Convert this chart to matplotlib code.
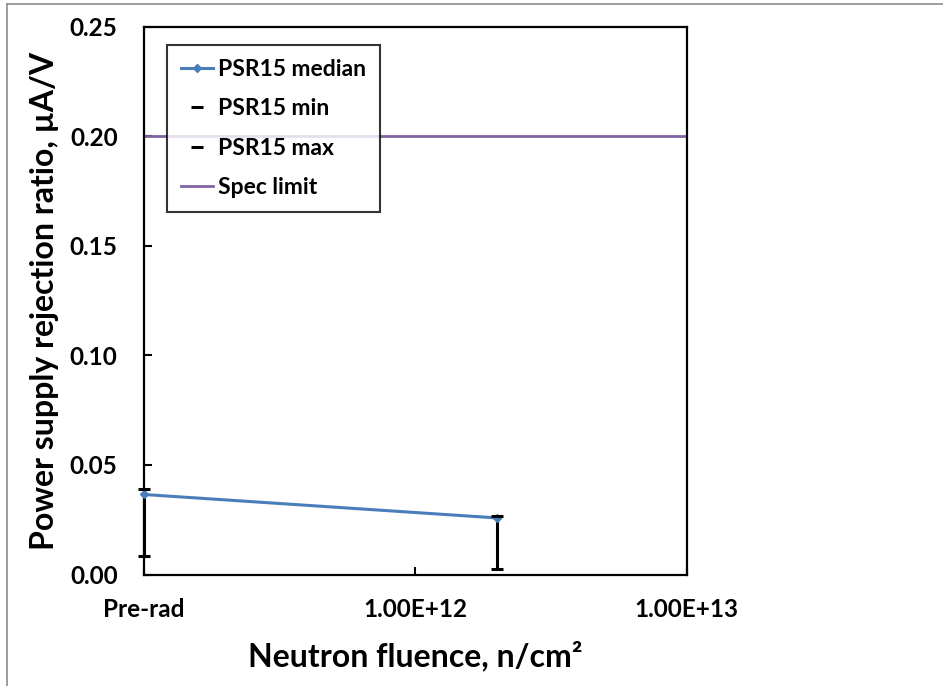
import numpy as np
import matplotlib.pyplot as plt
from matplotlib.lines import Line2D

plt.rcParams['font.family'] = ['Lato', 'DejaVu Sans']
plt.rcParams['font.weight'] = 'bold'

# fluence in n/cm^2, pre-rad drawn at the left end of the log axis
fluence = [1e11, 2e12]
psr_median = [0.0365, 0.0258]
psr_min = [0.0084, 0.0024]
psr_max = [0.0391, 0.0265]
spec_x = [1e11, 1e13]
spec_limit = [0.2, 0.2]

x_ticks = [1e11, 1e12, 1e13]
x_tick_labels = ['Pre-rad', '1.00E+12', '1.00E+13']
y_ticks = [0.0, 0.05, 0.10, 0.15, 0.20, 0.25]

blue = '#4A7EBB'
purple = '#8064A2'

fig = plt.figure(figsize=(9.43, 6.86), dpi=100)
ax = fig.add_axes([144 / 943, 1 - 574.5 / 686, (686.5 - 144) / 943, (574.5 - 26.5) / 686])

# chart area border (only left and top visible in the picture)
fig.add_artist(Line2D([7 / 943, 7 / 943], [0, 1 - 3.5 / 686], transform=fig.transFigure, color='#8c8c8c', lw=1.2))
fig.add_artist(Line2D([7 / 943, 1], [1 - 3.5 / 686, 1 - 3.5 / 686], transform=fig.transFigure, color='#8c8c8c', lw=1.2))

ax.plot(spec_x, spec_limit, color=purple, lw=2, label='Spec limit', zorder=2)
ax.vlines(fluence, psr_min, psr_max, color='black', lw=2.2, zorder=3, clip_on=False)
ax.plot(fluence, psr_median, color=blue, lw=2.2, marker='D', ms=4.5, label='PSR15 median', zorder=4, clip_on=False)
ax.plot(fluence, psr_min, ls='none', marker='_', ms=9, mew=2.2, color='black', label='PSR15 min', zorder=5, clip_on=False)
ax.plot(fluence, psr_max, ls='none', marker='_', ms=9, mew=2.2, color='black', label='PSR15 max', zorder=5, clip_on=False)

ax.set_xscale('log')
ax.set_xlim(1e11, 1e13)
ax.set_ylim(0, 0.25)
ax.set_xticks(x_ticks)
ax.set_xticklabels(x_tick_labels)
ax.xaxis.set_minor_locator(plt.NullLocator())
ax.set_yticks(y_ticks)
ax.set_yticklabels([f'{v:.2f}' for v in y_ticks])
ax.tick_params(direction='in', length=6, width=1.5, labelsize=17.5)
ax.tick_params(axis='y', pad=19)
ax.tick_params(axis='x', pad=17)
for s in ax.spines.values():
    s.set_linewidth(1.6)

ax.set_xlabel('Neutron fluence, n/cm²', fontsize=23, fontweight='bold', labelpad=14)
ax.set_ylabel('Power supply rejection ratio, µA/V', fontsize=23, fontweight='bold', labelpad=8)

handles, labels = ax.get_legend_handles_labels()
order = [1, 2, 3, 0]
leg = ax.legend([handles[i] for i in order], [labels[i] for i in order],
                loc='upper left', bbox_to_anchor=(0.042, 0.966), borderaxespad=0,
                fontsize=16.5, frameon=True, fancybox=False, edgecolor='black',
                handlelength=1.4, handletextpad=0.25, labelspacing=0.8, borderpad=0.6)
leg.get_frame().set_linewidth(1.5)

fig.savefig('out.png', dpi=100)
